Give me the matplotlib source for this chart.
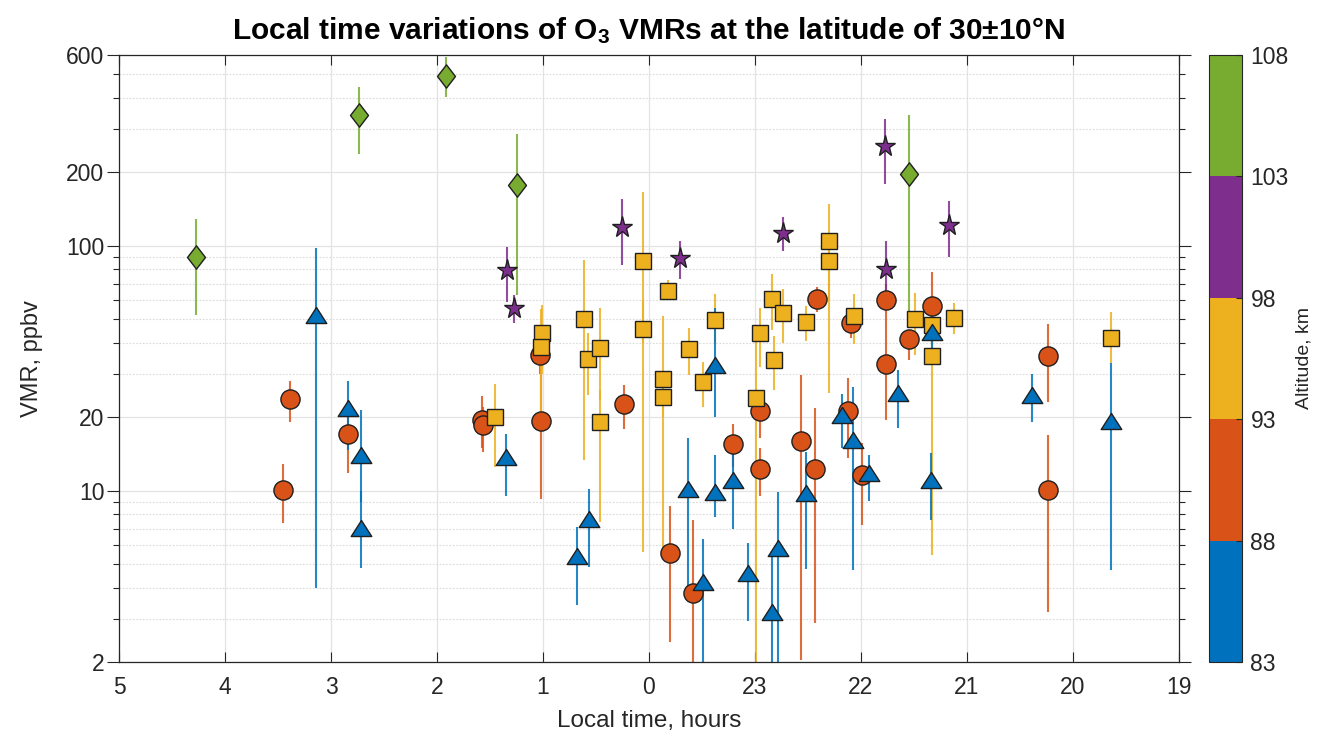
import numpy as np
import matplotlib
matplotlib.use("Agg")
import matplotlib.pyplot as plt
from matplotlib.colors import ListedColormap, BoundaryNorm
from matplotlib.cm import ScalarMappable
from matplotlib.ticker import FixedLocator, FixedFormatter, NullFormatter
from matplotlib.path import Path

plt.rcParams['font.family'] = ['Liberation Sans', 'DejaVu Sans']
plt.rcParams['mathtext.fontset'] = 'custom'
plt.rcParams['mathtext.rm'] = 'Liberation Sans'
plt.rcParams['mathtext.bf'] = 'Liberation Sans:bold'

# ---- O3 VMR retrievals, grouped by altitude bin ----
# local time in hours (0-24), VMR in ppbv, lower / upper uncertainty bounds

# 83-88 km
lt_83 = [3.144, 2.837, 2.72, 2.72, 1.349, 0.676, 0.566, 23.38, 23.38, 23.63, 23.49, 23.21,
         23.06, 22.84, 22.78, 22.52, 22.18, 22.07, 21.92, 21.65, 21.33, 21.34, 20.38, 19.64]
vmr_83 = [52.2, 21.7, 14.0, 7.07, 13.7, 5.42, 7.64, 32.6, 9.92, 10.2, 4.25, 11.1,
          4.6, 3.21, 5.82, 9.77, 20.4, 16.1, 11.8, 25.0, 44.6, 11.1, 24.6, 19.3]
lo_83 = [4.0, 14.7, 9.0, 4.82, 9.55, 3.42, 4.9, 20.0, 7.84, 3.75, 1.5, 6.96,
         2.94, 1.5, 1.5, 4.79, 15.0, 4.75, 9.1, 18.0, 34.2, 7.6, 19.1, 4.75]
hi_83 = [97.7, 28.1, 21.4, 10.0, 17.0, 7.09, 10.2, 55.9, 14.0, 16.4, 6.35, 14.7,
         6.1, 5.5, 9.86, 14.4, 24.8, 26.6, 14.0, 31.1, 52.2, 14.2, 30.0, 33.1]

# 88-93 km
lt_88 = [3.39, 3.45, 2.837, 1.579, 1.563, 1.016, 1.028, 0.236, 23.80, 23.58, 23.21, 22.95,
         22.95, 22.56, 22.43, 22.125, 21.99, 21.76, 21.76, 21.55, 22.41, 22.09, 21.33, 20.23, 20.23]
vmr_88 = [23.6, 10.1, 17.1, 19.4, 18.6, 19.3, 35.8, 22.5, 5.56, 3.81, 15.5, 21.2,
          12.3, 15.9, 12.3, 21.2, 11.6, 32.9, 60.1, 41.6, 60.8, 48.5, 56.8, 35.6, 10.1]
lo_88 = [19.1, 7.36, 11.8, 15.0, 14.4, 9.25, 30.0, 17.8, 2.42, 1.5, 12.5, 16.4,
         9.55, 2.04, 2.88, 13.6, 7.25, 19.4, 45.0, 34.2, 53.8, 41.9, 46.8, 23.1, 3.21]
hi_88 = [28.1, 12.9, 20.5, 24.4, 22.0, 30.0, 45.0, 27.0, 8.69, 7.6, 18.8, 25.0,
         14.9, 29.7, 21.7, 28.8, 15.6, 45.0, 70.0, 45.3, 68.1, 50.7, 78.4, 47.8, 16.9]

# 93-98 km
lt_93 = [1.456, 1.007, 1.019, 0.61, 0.579, 0.459, 0.459, 0.055, 0.055, 23.865, 23.865, 23.82,
         23.625, 23.49, 23.38, 22.84, 22.73, 22.95, 22.82, 22.99, 22.52, 22.30, 22.30, 22.06,
         21.49, 21.33, 21.33, 21.12, 19.64]
vmr_93 = [19.9, 44.2, 38.7, 50.4, 34.5, 38.2, 19.1, 86.7, 45.6, 28.7, 24.2, 65.6,
          37.8, 27.7, 49.8, 60.4, 53.3, 43.9, 34.2, 24.0, 49.0, 104.3, 86.9, 51.8,
          50.1, 47.5, 35.3, 50.8, 41.9]
lo_93 = [12.5, 30.0, 19.1, 13.3, 24.6, 23.5, 7.48, 40.0, 5.64, 20.0, 5.92, 60.1,
         29.7, 22.0, 40.0, 45.3, 40.0, 32.1, 25.8, 1.5, 40.8, 60.0, 25.0, 39.7,
         35.8, 40.0, 5.47, 43.5, 33.2]
hi_93 = [27.2, 57.3, 55.2, 87.5, 44.2, 55.9, 25.8, 166.0, 60.0, 51.7, 30.0, 72.5,
         46.0, 33.6, 63.5, 76.4, 66.4, 55.9, 42.6, 46.8, 56.9, 148.0, 110.0, 63.5,
         64.0, 57.3, 45.0, 58.2, 53.8]

# 98-103 km
lt_98 = [1.34, 1.27, 0.255, 23.71, 22.73, 21.77, 21.76, 21.17]
vmr_98 = [79.6, 55.8, 119.7, 88.9, 113.0, 254.0, 80.6, 121.0]
lo_98 = [59.1, 48.2, 83.0, 73.3, 94.9, 178.0, 58.2, 90.0]
hi_98 = [98.6, 63.0, 155.6, 104.0, 130.6, 329.0, 104.0, 152.0]

# 103-108 km
lt_103 = [4.27, 2.74, 1.91, 1.24, 21.55]
vmr_103 = [90.0, 342.0, 494.0, 176.0, 196.0]
lo_103 = [52.0, 236.0, 404.0, 63.0, 50.0]
hi_103 = [129.0, 445.0, 588.0, 286.0, 340.0]

alt_edges = [83, 88, 93, 98, 103, 108]
bin_colors = [(0.0, 0.447, 0.741), (0.850, 0.325, 0.098), (0.929, 0.694, 0.125),
              (0.494, 0.184, 0.556), (0.466, 0.674, 0.188)]
y_ticks = [2, 10, 20, 100, 200, 600]
x_tick_hours = [5, 4, 3, 2, 1, 0, 23, 22, 21, 20, 19]

# marker shapes
tri = Path([(-1, -0.78), (1, -0.78), (0, 0.78), (-1, -0.78)],
           [Path.MOVETO, Path.LINETO, Path.LINETO, Path.CLOSEPOLY])
dia = Path([(0, 1), (0.77, 0), (0, -1), (-0.77, 0), (0, 1)],
           [Path.MOVETO, Path.LINETO, Path.LINETO, Path.LINETO, Path.CLOSEPOLY])


def unwrap(t):
    """Put hours after midnight on a continuous axis (24..29)."""
    t = np.asarray(t, dtype=float)
    return np.where(t < 12, t + 24, t)


groups = [
    (lt_88, vmr_88, lo_88, hi_88, bin_colors[1], 'o', 13.8),
    (lt_93, vmr_93, lo_93, hi_93, bin_colors[2], 's', 11.0),
    (lt_83, vmr_83, lo_83, hi_83, bin_colors[0], tri, 14.8),
    (lt_98, vmr_98, lo_98, hi_98, bin_colors[3], '*', 15.5),
    (lt_103, vmr_103, lo_103, hi_103, bin_colors[4], dia, 16.8),
]

fig = plt.figure(figsize=(13.17, 7.31), dpi=100)
ax = fig.add_axes([0.0904, 0.0944, 0.8046, 0.8304])

# error bars underneath all markers
for lt, v, lo, hi, c, m, ms in groups:
    ax.vlines(unwrap(lt), lo, hi, colors=[c], linewidth=1.5, alpha=0.85, zorder=2)

for lt, v, lo, hi, c, m, ms in groups:
    ax.plot(unwrap(lt), v, linestyle='none', marker=m, markersize=ms,
            markerfacecolor=c, markeredgecolor='0.12', markeredgewidth=1.0, zorder=3)

ax.set_yscale('log')
ax.set_ylim(2, 600)
ax.set_xlim(29, 19)

xt = unwrap(x_tick_hours)
ax.xaxis.set_major_locator(FixedLocator(xt))
ax.xaxis.set_major_formatter(FixedFormatter([str(h) for h in x_tick_hours]))

ax.yaxis.set_major_locator(FixedLocator(y_ticks))
ax.yaxis.set_major_formatter(FixedFormatter([str(v) for v in y_ticks]))
minor = [k * d for d in (1, 10, 100) for k in range(2, 10)
         if 2 < k * d < 600 and k * d not in y_ticks]
ax.yaxis.set_minor_locator(FixedLocator(minor))
ax.yaxis.set_minor_formatter(NullFormatter())

ax.grid(True, which='major', color='#e3e3e3', linewidth=0.9, zorder=0)
ax.grid(True, which='minor', axis='y', color='#dadada', linestyle=(0, (1.5, 1.5)),
        linewidth=0.8, zorder=0)
ax.set_axisbelow(True)

for s in ax.spines.values():
    s.set_color('0.15')
    s.set_linewidth(0.9)

ax.tick_params(axis='x', which='major', direction='in', length=7.5, width=0.8,
               top=True, bottom=True, color='0.15', labelsize=16.5, pad=10,
               labelcolor='0.15')
ax.tick_params(axis='y', which='major', direction='out', length=8.5, width=0.8,
               left=True, right=True, color='0.15', labelsize=16.5, pad=2,
               labelcolor='0.15')
ax.tick_params(axis='y', which='minor', direction='out', length=4.5, width=0.8,
               left=True, right=True, color='0.15')

ax.set_xlabel('Local time, hours', fontsize=17.5, color='0.15', labelpad=8)
ax.set_ylabel('VMR, ppbv', fontsize=17, color='0.15', labelpad=17)
ax.set_title(r'Local time variations of $\mathbf{O_3}$ VMRs at the latitude of 30±10°N',
             fontsize=21.5, fontweight='bold', pad=11)

# altitude colour bar
cax = fig.add_axes([0.918, 0.0944, 0.0251, 0.8304])
cmap = ListedColormap(bin_colors)
norm = BoundaryNorm(alt_edges, cmap.N)
cb = fig.colorbar(ScalarMappable(norm=norm, cmap=cmap), cax=cax, ticks=alt_edges)
cb.outline.set_edgecolor('0.15')
cb.outline.set_linewidth(0.8)
cax.tick_params(direction='in', length=4, width=0.8, color='0.15', labelsize=16.5,
                labelcolor='0.15', pad=6)
cb.set_label('Altitude, km', fontsize=14, color='0.15', labelpad=5)

fig.savefig('out.png', dpi=100)
